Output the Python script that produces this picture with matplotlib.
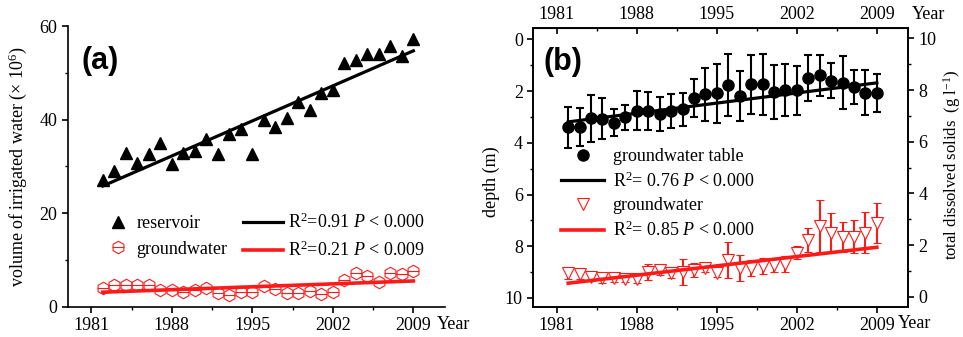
import numpy as np
import matplotlib
matplotlib.use('Agg')
import matplotlib.pyplot as plt
from matplotlib.ticker import MultipleLocator, FixedLocator

plt.rcParams['font.family'] = ['Liberation Serif', 'DejaVu Serif']
plt.rcParams['mathtext.fontset'] = 'custom'
plt.rcParams['mathtext.rm'] = 'Liberation Serif'
plt.rcParams['mathtext.it'] = 'Liberation Serif:italic'
plt.rcParams['font.size'] = 13

# ---- data ----
years = np.arange(1982, 2010)

# (a) irrigated water volume (x 10^6)
reservoir = [27.0, 29.0, 32.8, 30.8, 32.7, 34.9, 30.6, 32.8, 33.3, 35.8,
             32.6, 36.9, 37.9, 32.6, 39.9, 38.5, 40.3, 43.8, 42.0, 45.6,
             46.3, 52.0, 52.8, 54.0, 54.0, 55.8, 53.6, 57.2]
groundwater_vol = [4.1, 4.7, 4.7, 4.7, 4.7, 3.6, 3.6, 3.1, 3.6, 4.0,
                   2.9, 2.4, 3.1, 3.1, 4.4, 3.8, 2.9, 2.9, 3.3, 2.8,
                   3.1, 5.8, 7.2, 6.5, 5.2, 7.1, 6.9, 7.6]
fit_years = [1982, 2009]
reservoir_fit = [25.8, 54.7]
groundwater_vol_fit = [3.1, 5.5]

# (b) groundwater table depth (m) and TDS (g/l)
depth = [3.40, 3.40, 3.05, 3.06, 3.22, 3.02, 2.76, 2.76, 2.89, 2.76,
         2.71, 2.28, 2.13, 2.09, 1.77, 2.19, 1.74, 1.74, 2.03, 1.96,
         1.96, 1.51, 1.38, 1.60, 1.68, 1.83, 2.06, 2.06]
depth_err = [0.80, 0.74, 0.90, 0.80, 0.53, 0.48, 0.75, 0.73, 0.65, 0.66,
             0.62, 0.74, 1.03, 1.13, 1.20, 0.97, 1.13, 1.18, 1.05, 0.99,
             0.95, 0.89, 0.79, 0.68, 1.02, 0.66, 0.86, 0.74]
tds = [0.91, 0.87, 0.78, 0.72, 0.72, 0.68, 0.68, 0.97, 1.04, 0.94,
       0.97, 1.04, 1.11, 0.91, 1.43, 1.11, 1.11, 1.20, 1.23, 1.27,
       1.71, 2.20, 2.74, 2.46, 2.33, 2.33, 2.48, 2.85]
tds_err = [0.22, 0.17, 0.17, 0.20, 0.15, 0.12, 0.15, 0.30, 0.20, 0.20,
           0.50, 0.26, 0.15, 0.15, 0.70, 0.50, 0.32, 0.30, 0.25, 0.30,
           0.25, 0.47, 1.00, 0.77, 0.58, 0.65, 0.80, 0.77]
depth_fit = [3.19, 1.68]
tds_fit = [0.53, 1.92]

year_ticks = [1981, 1988, 1995, 2002, 2009]
year_minor = [1984.5, 1991.5, 1998.5, 2005.5]
xlim = (1978.95, 2011.75)

RED = '#ff1a1a'

fig = plt.figure(figsize=(9.63, 3.37), dpi=100)

# ---------------- panel (a) ----------------
ax = fig.add_axes([0.0703, 0.0899, 0.3918, 0.8329])
ax.plot(years, reservoir, '^', color='k', ms=8, ls='none')
hexa, = ax.plot(years, groundwater_vol, 'h', mfc='none', mec=RED, ms=9,
                mew=0.8, ls='none')
dash, = ax.plot(years, groundwater_vol, '_', color=RED, ms=9, mew=0.8,
                ls='none')
line_res, = ax.plot(fit_years, reservoir_fit, color='k', lw=2.3)
line_gw, = ax.plot(fit_years, groundwater_vol_fit, color=RED, lw=2.6)

ax.set_xlim(*xlim)
ax.set_ylim(0, 60)
ax.xaxis.set_major_locator(FixedLocator(year_ticks))
ax.xaxis.set_minor_locator(FixedLocator(year_minor))
ax.yaxis.set_major_locator(MultipleLocator(20))
ax.yaxis.set_minor_locator(MultipleLocator(10))
for s in ['top', 'right']:
    ax.spines[s].set_visible(False)
for s in ['left', 'bottom']:
    ax.spines[s].set_linewidth(1.2)
ax.tick_params(which='major', direction='out', length=4, width=1.2,
               labelsize=13)
ax.tick_params(which='minor', direction='out', length=2.5, width=1.0)
ax.set_ylabel(r'volume of irrigated water ($\times$ 10$^6$)', fontsize=13)
ax.yaxis.set_label_coords(-0.103, 0.5)
ax.text(0.979, -0.063, 'Year', transform=ax.transAxes, ha='left',
        va='center', fontsize=13)
ax.text(0.037, 0.875, '(a)', transform=ax.transAxes, ha='left', va='center',
        fontsize=22, fontweight='bold', family='Liberation Sans')

res_handle = plt.Line2D([], [], marker='^', color='k', ms=8, ls='none')
leg1 = ax.legend([res_handle, (hexa, dash)], ['reservoir', 'groundwater'],
                 loc='center left', bbox_to_anchor=(0.110, 0.250),
                 frameon=False, handlelength=1.0, handletextpad=0.5,
                 borderpad=0, borderaxespad=0, labelspacing=0.45,
                 fontsize=13)
ax.add_artist(leg1)
ax.legend([line_res, line_gw],
          [r'R$^2$=0.91 $P$ < 0.000', r'R$^2$=0.21 $P$ < 0.009'],
          loc='center left', bbox_to_anchor=(0.465, 0.250), frameon=False,
          handlelength=2.2, handletextpad=0.3, borderpad=0, borderaxespad=0,
          labelspacing=0.45, fontsize=13)

# ---------------- panel (b) ----------------
axb = fig.add_axes([0.5538, 0.0899, 0.3894, 0.8261])
axr = axb.twinx()

h_tab = axb.errorbar(years, depth, yerr=depth_err, fmt='o', color='k',
                     ms=8, elinewidth=1.5, capsize=3, capthick=1.5)
l_tab, = axb.plot(fit_years, depth_fit, color='k', lw=2.3)

h_tds = axr.errorbar(years, tds, yerr=tds_err, fmt='v', color=RED,
                     mfc='white', mec=RED, mew=0.8, ms=9, elinewidth=1.5,
                     capsize=3, capthick=1.5)
l_tds, = axr.plot(fit_years, tds_fit, color=RED, lw=2.6, zorder=5)

axb.set_xlim(*xlim)
axb.set_ylim(10.34, -0.43)
axr.set_ylim(-0.38, 10.39)
axb.xaxis.set_major_locator(FixedLocator(year_ticks))
axb.xaxis.set_minor_locator(FixedLocator(year_minor))
axb.yaxis.set_major_locator(MultipleLocator(2))
axb.yaxis.set_minor_locator(MultipleLocator(1))
axr.yaxis.set_major_locator(MultipleLocator(2))
axr.yaxis.set_minor_locator(MultipleLocator(1))
for a in (axb, axr):
    for s in a.spines.values():
        s.set_linewidth(1.2)
axb.tick_params(which='major', direction='out', length=4, width=1.2,
                labelsize=13)
axb.tick_params(which='minor', direction='out', length=2.5, width=1.0)
axr.tick_params(which='major', direction='out', length=4, width=1.2,
                labelsize=13)
axr.tick_params(which='minor', direction='out', length=2.5, width=1.0)

top = axb.secondary_xaxis('top')
top.xaxis.set_major_locator(FixedLocator(year_ticks))
top.xaxis.set_minor_locator(FixedLocator(year_minor))
top.tick_params(which='major', direction='in', length=4, width=1.2,
                labelsize=13)
top.tick_params(which='minor', direction='in', length=2.5, width=1.0)

axb.set_ylabel('depth (m)', fontsize=13)
axb.yaxis.set_label_coords(-0.089, 0.45)
axr.set_ylabel(r'total dissolved solids  (g l$^{-1}$)', fontsize=12)
axr.yaxis.set_label_coords(1.088, 0.51)
axb.text(0.9725, -0.060, 'Year', transform=axb.transAxes, ha='left',
         va='center', fontsize=13)
axb.text(1.009, 1.048, 'Year', transform=axb.transAxes, ha='left',
         va='center', fontsize=13)
axr.text(0.026, 0.880, '(b)', transform=axr.transAxes, ha='left',
         va='center', fontsize=22, fontweight='bold', family='Liberation Sans')

tab_handle = plt.Line2D([], [], marker='o', color='k', ms=8, ls='none')
tds_handle = plt.Line2D([], [], marker='v', mfc='white', mec=RED, mew=0.8,
                        ms=9, ls='none')
axr.legend([tab_handle, l_tab, tds_handle, l_tds],
           ['groundwater table', r'R$^2$= 0.76 $P$ < 0.000',
            'groundwater', r'R$^2$= 0.85 $P$ < 0.000'],
           loc='center left', bbox_to_anchor=(0.074, 0.405), frameon=False,
           handlelength=2.4, handletextpad=0.45, borderpad=0,
           borderaxespad=0, labelspacing=0.35, fontsize=13)

fig.savefig('out.png', dpi=100)
